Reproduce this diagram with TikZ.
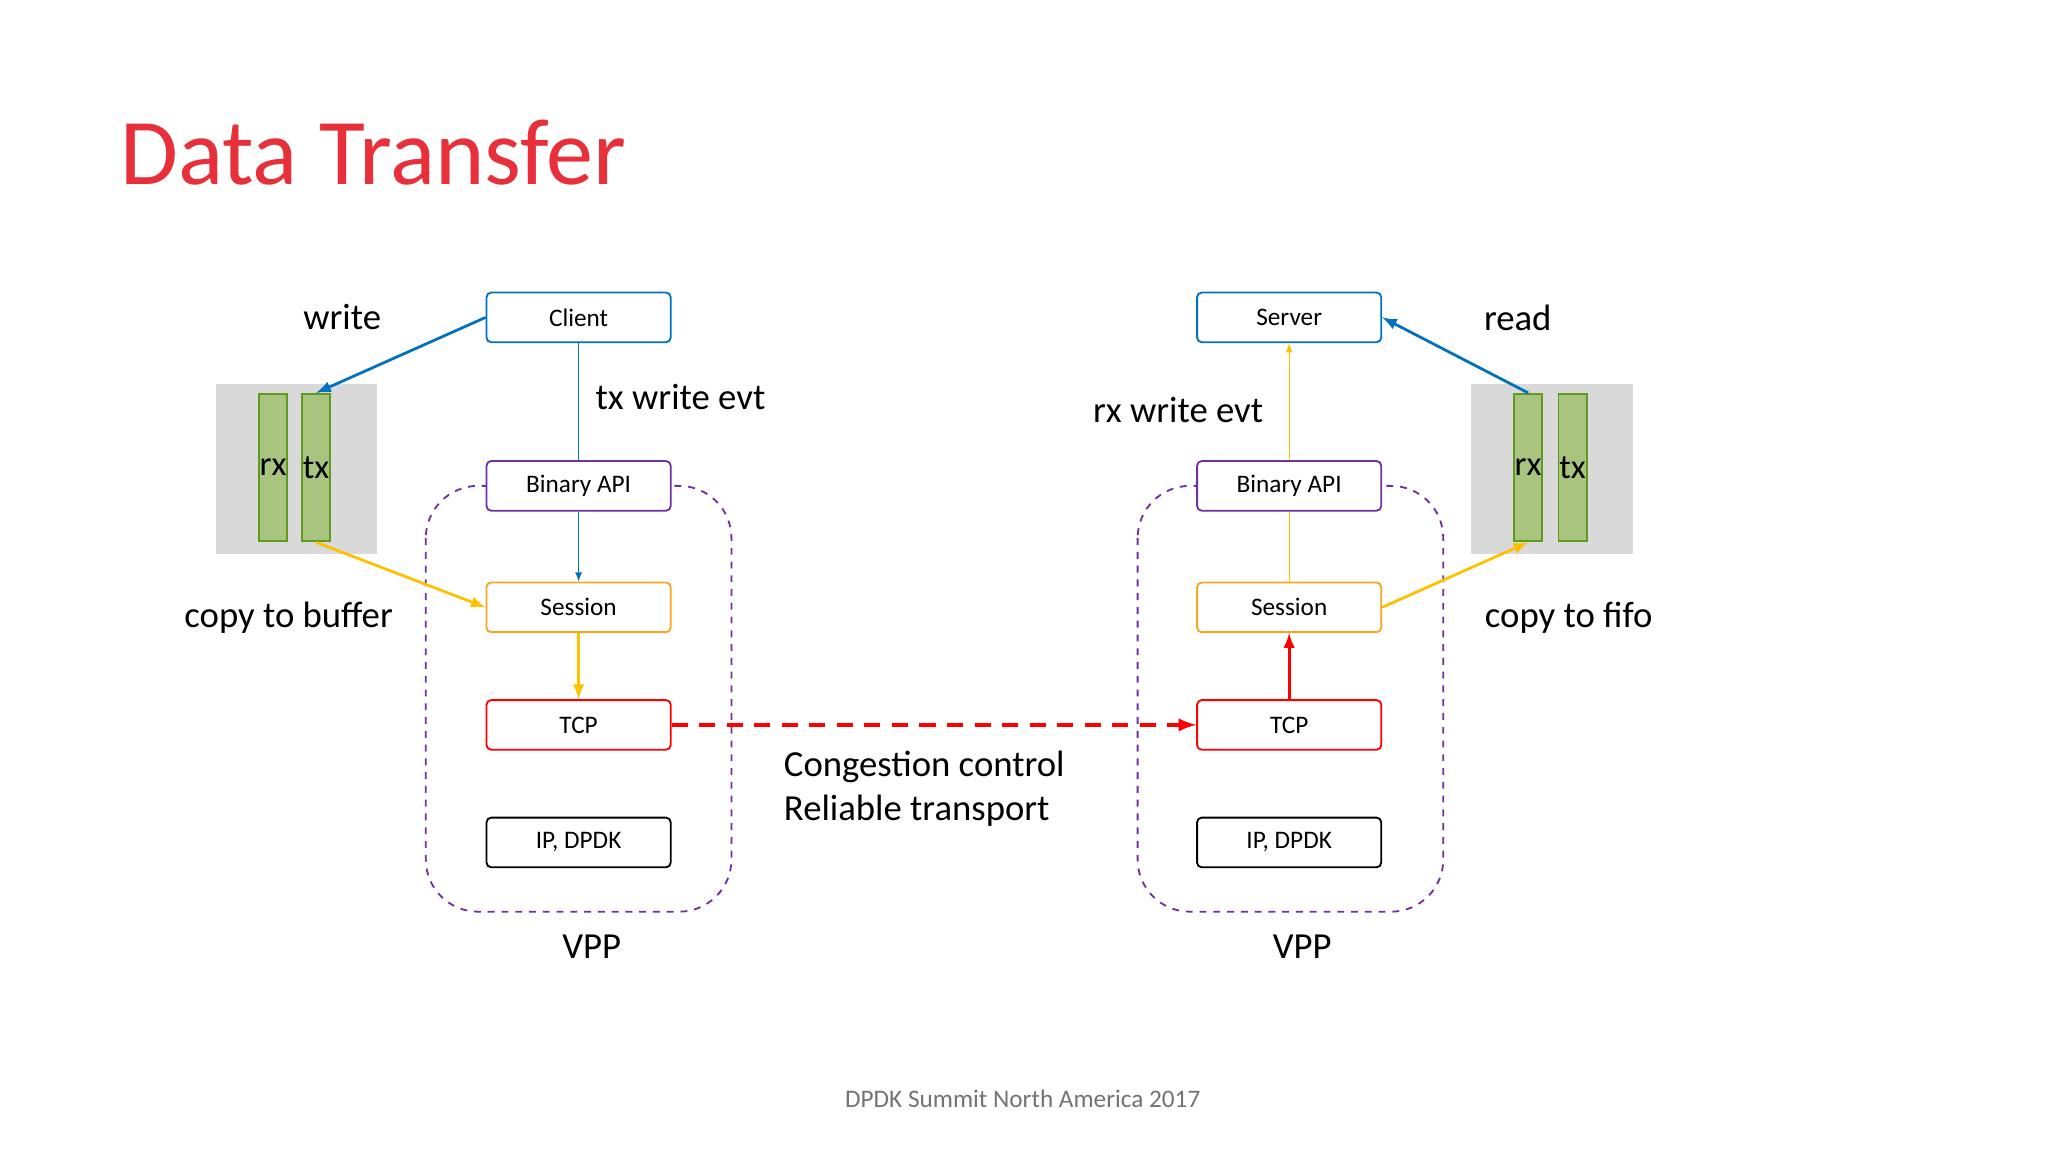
\documentclass[tikz,border=0pt]{standalone}
\usepackage{fontspec}
\setmainfont{Carlito}
\usetikzlibrary{positioning}
\definecolor{vblue}{HTML}{0070C0}
\definecolor{vpurple}{HTML}{7030A0}
\definecolor{vorange}{HTML}{F5A623}
\definecolor{vyellow}{HTML}{FFC000}
\definecolor{vred}{HTML}{FF0000}
\definecolor{vgreen}{HTML}{A9C47F}
\definecolor{vgreenline}{HTML}{5E9A1E}
\definecolor{vtitle}{HTML}{E8303A}
\tikzset{
  blk/.style={draw,thick,fill=white,rounded corners=2pt,minimum width=2.82cm,minimum height=0.76cm,font=\fontsize{11}{13}\selectfont},
  lbl/.style={font=\fontsize{16}{19}\selectfont},
  bar/.style={draw=vgreenline,thick,fill=vgreen,minimum width=0.43cm,minimum height=2.26cm,inner sep=0pt,font=\fontsize{15}{17}\selectfont},
  fifo/.style={fill=black!15,minimum width=2.48cm,minimum height=2.6cm},
  vpp/.style={draw=vpurple,dashed,thick,rounded corners=0.8cm},
}
\begin{document}
\begin{tikzpicture}[x=0.02cm,y=-0.02cm]
\useasboundingbox (0,0) rectangle (1568,882);
\node [anchor=west,text=vtitle,font=\fontsize{41}{46}\selectfont] at (86,117) (title) {Data Transfer};

% vpp frames
\draw [vpp] (326,372) rectangle (560,698);
\draw [vpp] (871,372) rectangle (1105,698);
\node [lbl] at (453,725) (vppl) {VPP};
\node [lbl] at (997,725) (vppr) {VPP};

% client side
\node [blk,draw=vblue] at (443,243) (client) {Client};
\node [blk,draw=vpurple] at (443,372) (apil) {Binary API};
\node [blk,draw=vorange] at (443,465) (sessl) {Session};
\node [blk,draw=vred] at (443,555) (tcpl) {TCP};
\node [blk,draw=black] at (443,645) (ipl) {IP, DPDK};

% server side
\node [blk,draw=vblue] at (987,243) (server) {Server};
\node [blk,draw=vpurple] at (987,372) (apir) {Binary API};
\node [blk,draw=vorange] at (987,465) (sessr) {Session};
\node [blk,draw=vred] at (987,555) (tcpr) {TCP};
\node [blk,draw=black] at (987,645) (ipr) {IP, DPDK};

% fifos
\node [fifo] at (227,359) (fifol) {};
\node [bar] at (209,358) (rxl) {rx};
\node [bar] at (242,358) (txl) {tx};
\node [fifo] at (1188,359) (fifor) {};
\node [bar] at (1170,358) (rxr) {rx};
\node [bar] at (1204,358) (txr) {tx};

% labels
\node [lbl] at (262,243) (write) {write};
\node [lbl] at (1162,243) (read) {read};
\node [lbl] at (521,304) (txevt) {tx write evt};
\node [lbl] at (902,314) (rxevt) {rx write evt};
\node [lbl] at (221,473) (cpbuf) {copy to buffer};
\node [lbl] at (1201,473) (cpfifo) {copy to fifo};
\node [lbl,anchor=west,align=left] at (594,604) (cong) {Congestion control\\Reliable transport};
\node [text=black!55,font=\fontsize{11}{13}\selectfont] at (783,841) (footer) {DPDK Summit North America 2017};

% connectors
\draw [vblue,very thick,-latex] (client.west) -- (txl.north);
\draw [vblue] (client) -- (apil);
\draw [vblue,-latex] (apil) -- (sessl);
\draw [vyellow,very thick,-latex] (txl.south) -- (sessl.west);
\draw [vyellow,very thick,-latex] (sessl) -- (tcpl);
\draw [vred,line width=1.6pt,dash pattern=on 7pt off 5pt,-latex] (tcpl) -- (tcpr);
\draw [vred,very thick,-latex] (tcpr) -- (sessr);
\draw [vyellow,very thick,-latex] (sessr.east) -- (rxr.south);
\draw [vyellow] (sessr) -- (apir);
\draw [vyellow,-latex] (apir) -- (server);
\draw [vblue,very thick,-latex] (rxr.north) -- (server.east);
\end{tikzpicture}
\end{document}
